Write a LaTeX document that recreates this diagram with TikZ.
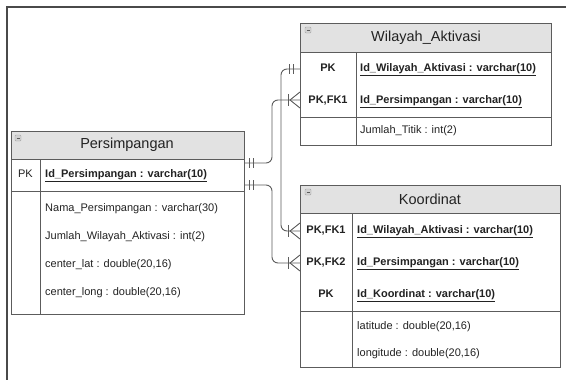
\documentclass[tikz,border=0pt]{standalone}
\usepackage{fontspec}
\setmainfont{Liberation Sans}
\definecolor{bordc}{HTML}{5C5C5C}
\definecolor{hdrc}{HTML}{E2E2E2}
\definecolor{txtc}{HTML}{222222}
\definecolor{framec}{HTML}{4A4A4A}
\tikzset{
  ent/.style={draw=bordc, line width=0.9pt},
  hdr/.style={fill=hdrc},
  title/.style={font=\fontsize{14.5}{16}\selectfont, text=txtc, inner sep=0pt},
  attr/.style={font=\fontsize{11}{13}\selectfont, text=txtc, anchor=west, inner sep=0pt, text height=8pt, text depth=2.5pt},
  keyc/.style={font=\bfseries\fontsize{11}{13}\selectfont, text=txtc, inner sep=0pt, text height=8pt, text depth=2.5pt},
  keyr/.style={font=\fontsize{11}{13}\selectfont, text=txtc, inner sep=0pt, text height=8pt, text depth=2.5pt},
  conn/.style={draw=bordc, line width=0.9pt, rounded corners=6pt},
  tick/.style={draw=bordc, line width=0.9pt},
  mini/.style={draw=gray!70, fill=gray!35, line width=0.4pt, rounded corners=1pt},
}
\newcommand{\pkey}[1]{\textbf{\underline{#1}}}
\begin{document}
\begin{tikzpicture}[x=1pt, y=-1pt]
\useasboundingbox (0,0) rectangle (566,380);
% frame
\draw[framec, line width=1.6pt] (7,380) -- (7,7) -- (566,7);

% ---------- Persimpangan ----------
\fill[hdr] (11,131) rectangle (244,159);
\draw[ent] (11,131) rectangle (244,314);
\draw[ent] (11,159) -- (244,159);
\draw[ent] (11,191) -- (244,191);
\draw[ent] (40,159) -- (40,314);
\draw[mini] (15,135) rectangle (21,141);
\draw[bordc, line width=0.5pt] (16.5,138) -- (19.5,138);
\node[title] (pT) at (127,145) {Persimpangan};
\node[keyr] (pK) at (25.5,175) {PK};
\node[attr] (pA1) at (45,175) {\pkey{Id\_Persimpangan : varchar(10)}};
\node[attr] (pA2) at (45,209) {Nama\_Persimpangan : varchar(30)};
\node[attr] (pA3) at (45,237) {Jumlah\_Wilayah\_Aktivasi : int(2)};
\node[attr] (pA4) at (45,265) {center\_lat : double(20,16)};
\node[attr] (pA5) at (45,293) {center\_long : double(20,16)};

% ---------- Wilayah_Aktivasi ----------
\fill[hdr] (300,23) rectangle (551,52);
\draw[ent] (300,23) rectangle (551,145);
\draw[ent] (300,52) -- (551,52);
\draw[ent] (300,117) -- (551,117);
\draw[ent] (356,52) -- (356,145);
\draw[mini] (305,27) rectangle (311,33);
\draw[bordc, line width=0.5pt] (306.5,30) -- (309.5,30);
\node[title] (wT) at (426,37.5) {Wilayah\_Aktivasi};
\node[keyc] (wK1) at (328,69) {PK};
\node[keyc] (wK2) at (328,101) {PK,FK1};
\node[attr] (wA1) at (360,69) {\pkey{Id\_Wilayah\_Aktivasi : varchar(10)}};
\node[attr] (wA2) at (360,101) {\pkey{Id\_Persimpangan : varchar(10)}};
\node[attr] (wA3) at (360,131) {Jumlah\_Titik : int(2)};

% ---------- Koordinat ----------
\fill[hdr] (300,185) rectangle (560,213);
\draw[ent] (300,185) rectangle (560,367);
\draw[ent] (300,213) -- (560,213);
\draw[ent] (300,311) -- (560,311);
\draw[ent] (352,213) -- (352,367);
\draw[mini] (305,189) rectangle (311,195);
\draw[bordc, line width=0.5pt] (306.5,192) -- (309.5,192);
\node[title] (kT) at (430,199) {Koordinat};
\node[keyc] (kK1) at (326,231) {PK,FK1};
\node[keyc] (kK2) at (326,263) {PK,FK2};
\node[keyc] (kK3) at (326,295) {PK};
\node[attr] (kA1) at (357,231) {\pkey{Id\_Wilayah\_Aktivasi : varchar(10)}};
\node[attr] (kA2) at (357,263) {\pkey{Id\_Persimpangan : varchar(10)}};
\node[attr] (kA3) at (357,295) {\pkey{Id\_Koordinat : varchar(10)}};
\node[attr] (kA4) at (357,327) {latitude : double(20,16)};
\node[attr] (kA5) at (357,354) {longitude : double(20,16)};

% ---------- connector end points ----------
\coordinate (c1a) at (244,163);
\coordinate (c1b) at (300,100);
\coordinate (c2a) at (300,69);
\coordinate (c2b) at (300,231);
\coordinate (c3a) at (244,185);
\coordinate (c3b) at (300,263);

% connectors
\draw[conn] (c1a) -- (272,163) -- (272,100) -- (c1b);
\draw[conn] (c2a) -- (281,69) -- (281,231) -- (c2b);
\draw[conn] (c3a) -- (272,185) -- (272,263) -- (c3b);

% one-and-only-one marks
\foreach \yy in {163,185} {
  \draw[tick] (249,\yy-5) -- (249,\yy+5);
  \draw[tick] (253,\yy-5) -- (253,\yy+5);
}
\draw[tick] (289,64) -- (289,74);
\draw[tick] (293,64) -- (293,74);

% crow's feet (many)
\foreach \yy in {100,231,263} {
  \draw[tick] (288,\yy-6) -- (288,\yy+6);
  \draw[tick] (300,\yy-8) -- (290,\yy) -- (300,\yy+8);
}
\end{tikzpicture}
\end{document}
